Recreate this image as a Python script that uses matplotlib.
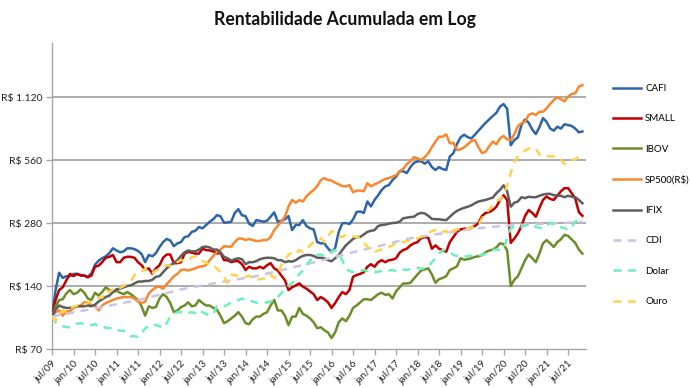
import numpy as np
import matplotlib
matplotlib.use('Agg')
import matplotlib.pyplot as plt

plt.rcParams['font.family'] = ['Lato', 'DejaVu Sans']

# monthly values, jul/09 .. nov/21 (R$ 100 invested)
cafi = [100, 134, 162, 153, 156, 156, 160, 160, 158, 157, 155, 161,
        177, 185, 190, 194, 201, 212, 207, 203, 205, 212, 212, 210,
        206, 199, 182, 197, 194, 201, 215, 227, 235, 231, 217, 224,
        227, 240, 242, 254, 257, 268, 264, 274, 284, 292, 305, 302,
        281, 282, 284, 313, 326, 305, 302, 278, 271, 289, 287, 284,
        287, 300, 315, 284, 287, 292, 302, 259, 274, 274, 289, 271,
        264, 261, 227, 224, 224, 212, 203, 212, 254, 279, 280, 277,
        291, 316, 318, 313, 355, 336, 361, 380, 403, 419, 425, 449,
        466, 495, 495, 485, 518, 543, 552, 552, 538, 552, 518, 502,
        518, 507, 502, 582, 604, 668, 719, 740, 720, 710, 740, 774,
        808, 844, 876, 909, 942, 1007, 1037, 984, 659, 698, 719, 823,
        876, 844, 784, 745, 804, 888, 853, 792, 774, 808, 792, 830,
        823, 815, 792, 760, 767]

small = [100, 120, 134, 138, 149, 160, 156, 160, 157, 157, 154, 157,
         173, 175, 182, 191, 193, 197, 182, 182, 191, 193, 193, 191,
         182, 176, 167, 170, 160, 170, 176, 191, 198, 198, 180, 180,
         182, 200, 204, 202, 200, 200, 211, 208, 207, 205, 200, 202,
         186, 186, 182, 184, 184, 178, 167, 173, 170, 170, 173, 170,
         176, 180, 170, 166, 157, 149, 134, 138, 141, 144, 139, 136,
         132, 128, 120, 124, 121, 117, 110, 116, 124, 131, 128, 134,
         155, 158, 160, 163, 173, 178, 173, 182, 186, 182, 186, 187,
         190, 202, 208, 211, 219, 224, 227, 237, 240, 238, 211, 219,
         211, 208, 204, 227, 240, 254, 261, 263, 263, 267, 271, 280,
         303, 313, 316, 323, 335, 361, 380, 361, 225, 236, 250, 271,
         303, 323, 313, 300, 330, 361, 375, 365, 361, 378, 397, 411,
         411, 389, 367, 316, 303]

ibov = [100, 112, 120, 121, 129, 134, 128, 130, 135, 130, 122, 120,
        130, 126, 131, 138, 134, 131, 133, 130, 128, 131, 128, 124,
        120, 112, 101, 112, 110, 111, 122, 128, 124, 116, 105, 107,
        111, 113, 117, 112, 113, 120, 116, 113, 113, 110, 108, 101,
        93, 95, 98, 101, 105, 100, 93, 92, 97, 100, 100, 103,
        105, 113, 120, 107, 107, 101, 91, 100, 100, 110, 103, 101,
        98, 94, 88, 89, 86, 84, 79, 84, 94, 98, 95, 101,
        110, 113, 117, 121, 121, 120, 124, 128, 130, 127, 128, 122,
        132, 138, 144, 144, 145, 152, 159, 166, 168, 170, 159, 145,
        151, 153, 156, 167, 170, 174, 190, 187, 188, 190, 193, 194,
        197, 203, 207, 209, 214, 224, 222, 207, 140, 150, 156, 170,
        186, 198, 190, 182, 200, 224, 232, 224, 215, 227, 234, 246,
        243, 234, 225, 209, 200]

sp500 = [100, 105, 107, 101, 106, 106, 110, 112, 113, 117, 117, 113,
         113, 107, 113, 116, 118, 120, 122, 123, 124, 124, 124, 122,
         118, 116, 118, 129, 134, 138, 139, 136, 143, 149, 156, 160,
         167, 168, 166, 168, 170, 173, 174, 176, 186, 195, 203, 209,
         217, 216, 216, 227, 236, 236, 232, 235, 232, 230, 230, 232,
         232, 240, 259, 272, 285, 300, 336, 361, 350, 360, 355, 375,
         390, 403, 420, 449, 459, 449, 447, 436, 429, 420, 419, 425,
         393, 400, 400, 397, 434, 419, 429, 436, 446, 455, 459, 466,
         474, 495, 508, 535, 552, 578, 571, 560, 578, 604, 645, 686,
         724, 724, 743, 673, 677, 625, 630, 644, 666, 690, 698, 644,
         604, 614, 652, 686, 666, 710, 730, 703, 698, 743, 814, 839,
         853, 919, 936, 919, 953, 953, 989, 1037, 1083, 1117, 1093, 1068,
         1124, 1158, 1168, 1255, 1278]

ifix = [100, 108, 113, 111, 110, 110, 111, 112, 112, 112, 113, 112,
        114, 118, 121, 124, 126, 131, 135, 136, 138, 140, 141, 144,
        147, 147, 148, 148, 150, 155, 156, 163, 170, 176, 180, 186,
        195, 203, 207, 205, 205, 209, 215, 216, 214, 209, 209, 203,
        193, 190, 185, 188, 190, 188, 178, 182, 182, 184, 188, 190,
        191, 191, 190, 186, 186, 182, 184, 183, 186, 191, 195, 197,
        197, 195, 191, 191, 190, 186, 184, 190, 197, 208, 219, 227,
        235, 240, 240, 247, 254, 257, 259, 271, 274, 275, 278, 280,
        281, 284, 295, 297, 299, 300, 309, 313, 311, 303, 293, 292,
        292, 290, 289, 300, 311, 320, 326, 331, 335, 340, 348, 355,
        358, 361, 366, 370, 389, 403, 424, 397, 335, 350, 355, 372,
        368, 374, 372, 372, 378, 383, 386, 386, 380, 379, 378, 372,
        378, 374, 372, 361, 348]

cdi = [100, 100.8, 101.5, 102.3, 103, 103.8, 104.6, 105.4, 106.2, 107, 107.8, 108.6,
       109.4, 110.2, 111, 111.9, 112.8, 113.7, 114.6, 115.5, 116.4, 117.3, 118.2, 119.1,
       120, 121.2, 122.4, 123.6, 124.8, 126, 127.2, 128.4, 129.6, 130.8, 132, 133.2,
       135, 136, 137, 138, 139, 140, 141, 142, 143, 144, 145, 146,
       147, 148, 149, 150, 151, 152, 153, 154, 155, 156, 157.5, 159,
       160.5, 162, 163.5, 165, 166.5, 168, 169.5, 171, 173, 174.5, 176, 178,
       180, 181.5, 183.5, 185, 187, 189, 191, 193, 195, 197, 199, 201,
       203, 205, 207, 209, 211, 213, 215, 217, 219, 221, 223.5, 226,
       228, 230.5, 233, 235, 236.5, 238, 239.5, 241, 242.5, 244, 245.5, 247,
       248.5, 250, 251.5, 253, 254.5, 256, 257.5, 259, 260.5, 262, 263.5, 264.5,
       265.5, 266.5, 267.5, 268.5, 269.5, 270.5, 271.5, 272.5, 273, 273.5, 274, 274.5,
       275, 275.5, 276, 276.5, 277, 277.5, 278, 278.5, 279, 279.5, 280, 280.5,
       281, 282, 282.5, 283, 284]

dolar = [100, 94, 91, 90, 89, 89, 91, 92.5, 93, 92, 92, 91,
         92, 90, 90, 88.5, 88, 88, 87, 85.6, 85.6, 83, 80.6, 80.6,
         80, 83, 88, 90, 92, 91, 90, 88, 93, 100, 103, 105,
         105, 103, 104, 105, 104, 107.5, 105, 103, 101, 103, 112, 112,
         112, 114, 117, 118, 120, 122, 120, 120, 118, 116.6, 116, 116.6,
         117, 118, 120, 124, 129.5, 135, 141, 145, 149.5, 160, 166, 176,
         186, 188, 197, 198, 195, 200, 204, 208, 200, 186, 170, 165,
         163, 162, 165, 167, 165, 162, 163, 164, 165, 167, 166, 167,
         165, 167, 168, 167, 169, 170, 171, 169, 170, 173, 182, 190,
         200, 208, 208, 204, 197, 195, 193, 193, 195, 195, 197, 197,
         197, 200, 203, 208, 209, 208, 210, 236, 264, 268, 268, 268,
         272, 275, 275, 268, 266, 264, 272, 281, 275, 272, 267, 265,
         259, 268, 285, 289, 285]

ouro = [100, 95.5, 101, 107.5, 105, 110, 111, 113, 112, 114, 116.6, 118,
        120, 123, 123, 134, 131, 135, 138, 137, 140, 144, 147, 158,
        160, 163, 170, 160, 161, 166, 168, 173, 176, 175, 174, 182,
        186, 186, 184, 192, 194, 187, 184, 182, 176, 175, 170, 163,
        155, 145, 158, 158, 156, 157, 155, 157, 151, 149.5, 151, 152,
        151, 158, 153, 158, 176, 186, 197, 203, 199, 208, 203, 211,
        219, 227, 232, 237, 227, 240, 256, 252, 242, 240, 246, 242,
        242, 240, 237, 227, 215, 207, 203, 207, 209, 211, 215, 219,
        224, 225, 227, 229, 232, 234, 237, 240, 246, 250, 257, 259,
        250, 254, 257, 246, 259, 261, 261, 263, 264, 267, 271, 274,
        295, 311, 325, 342, 358, 362, 380, 424, 485, 549, 585, 604,
        622, 636, 643, 636, 596, 580, 585, 583, 583, 580, 564, 535,
        549, 560, 564, 580, 592]

series_names = ['CAFI', 'SMALL', 'IBOV', 'SP500(R$)', 'IFIX', 'CDI', 'Dolar', 'Ouro']
xtick_labels = ['jul/09', 'jan/10', 'jul/10', 'jan/11', 'jul/11', 'jan/12', 'jul/12',
                'jan/13', 'jul/13', 'jan/14', 'jul/14', 'jan/15', 'jul/15', 'jan/16',
                'jul/16', 'jan/17', 'jul/17', 'jan/18', 'jul/18', 'jan/19', 'jul/19',
                'jan/20', 'jul/20', 'jan/21', 'jul/21']
ytick_values = [70, 140, 280, 560, 1120]
ytick_labels = ['R$ 70', 'R$ 140', 'R$ 280', 'R$ 560', 'R$ 1.120']

colors = ['#2E65A9', '#C00000', '#6B8E2A', '#F7882F', '#5E5E5E', '#CCC4E2', '#6EF0BC', '#FFD24F']
dashed = [False, False, False, False, False, True, True, True]
data = [cafi, small, ibov, sp500, ifix, cdi, dolar, ouro]

months = np.arange(len(cafi))

fig = plt.figure(figsize=(6.9, 3.88), dpi=100)
ax = fig.add_axes([52/690, 1 - 349/388, (586 - 52)/690, (349 - 43)/388])

lines = []
for i, (vals, name) in enumerate(zip(data, series_names)):
    ls = (0, (3.2, 2.6)) if dashed[i] else '-'
    ln, = ax.plot(months, vals, color=colors[i], lw=1.8, ls=ls, label=name,
                  solid_joinstyle='round', zorder=3 + i)
    lines.append(ln)

ax.set_yscale('log', base=2)
ax.set_ylim(70, 2030)
ax.set_xlim(0, 149)
ax.set_yticks(ytick_values)
ax.set_yticklabels(ytick_labels)
ax.yaxis.set_minor_locator(matplotlib.ticker.NullLocator())
ax.set_xticks(np.arange(0, len(xtick_labels) * 6, 6))
ax.set_xticklabels(xtick_labels, rotation=45, ha='right', rotation_mode='anchor')

for y in ytick_values[1:]:
    ax.axhline(y, color='#A6A6A6', lw=1.3, zorder=1)

for s in ['top', 'right']:
    ax.spines[s].set_visible(False)
for s in ['left', 'bottom']:
    ax.spines[s].set_color('#A6A6A6')
    ax.spines[s].set_linewidth(1.0)

ax.tick_params(axis='y', length=4, width=1, color='#A6A6A6', labelsize=7.5,
               labelcolor='#222222', pad=3)
ax.tick_params(axis='x', length=4, width=1, color='#A6A6A6', labelsize=7.2,
               labelcolor='#222222', pad=3)

fig.text(0.5, 1 - 19/388, 'Rentabilidade Acumulada em Log', ha='center', va='center',
         fontsize=12.7, fontweight='bold', color='#111111')

fig.legend(lines, series_names, loc='upper left', bbox_to_anchor=(613/690, 1 - 84/388),
           frameon=False, fontsize=7, handlelength=2.9, handletextpad=0.4,
           labelspacing=2.2, borderpad=0, borderaxespad=0)

fig.savefig('out.png', dpi=100)
